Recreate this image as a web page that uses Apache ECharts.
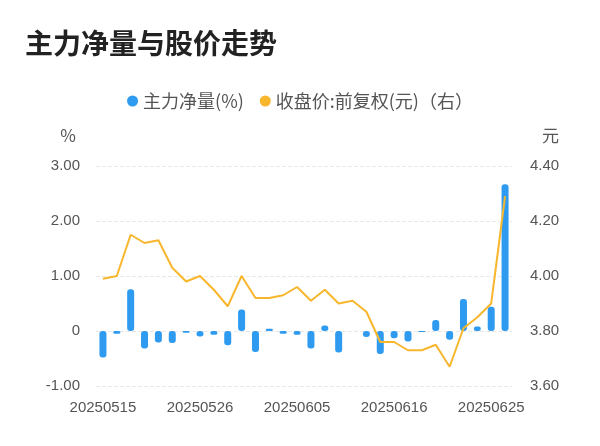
<!DOCTYPE html><html><head><meta charset="utf-8">
<script src="https://cdn.jsdelivr.net/npm/echarts@6/dist/echarts.min.js"></script>
<style>html,body{margin:0;padding:0;background:#fff}#c{width:600px;height:446px}</style></head><body>
<div id="c"></div>
<script>
const dates=['20250515','20250516','20250519','20250520','20250521','20250522','20250523','20250526','20250527','20250528','20250529','20250530','20250603','20250604','20250605','20250606','20250609','20250610','20250611','20250612','20250613','20250616','20250617','20250618','20250619','20250620','20250623','20250624','20250625','20250626'];
const netVolume=[-0.48,-0.05,0.76,-0.32,-0.21,-0.22,-0.03,-0.10,-0.07,-0.26,0.39,-0.38,0.04,-0.05,-0.07,-0.32,0.10,-0.39,0,-0.11,-0.42,-0.13,-0.19,-0.02,0.20,-0.16,0.58,0.08,0.44,2.67];
const price=[3.99,4.00,4.15,4.12,4.13,4.03,3.98,4.00,3.95,3.89,4.00,3.92,3.92,3.93,3.96,3.91,3.95,3.90,3.91,3.87,3.76,3.76,3.73,3.73,3.75,3.67,3.81,3.85,3.90,4.29];
const leftTicks=['-1.00','0','1.00','2.00','3.00'];
const c=echarts.init(document.getElementById('c'));
const font='"Noto Sans CJK SC","Noto Sans",sans-serif';
const tickFont='"Liberation Sans",Arial,sans-serif';
c.setOption({
 animation:false,
 textStyle:{fontFamily:font},
 title:{text:'主力净量与股价走势',left:20,top:24,textStyle:{fontSize:28,fontWeight:'bold',color:'#222',fontFamily:font}},
 legend:{top:87,left:'center',itemWidth:11,itemHeight:11,itemGap:16,textStyle:{fontSize:18,color:'#555'},
  data:[{name:'主力净量(%)',icon:'circle'},{name:'收盘价:前复权(元)（右）',icon:'circle'}]},
 grid:{left:96,right:88,top:166,bottom:60},
 xAxis:{type:'category',data:dates,boundaryGap:true,axisTick:{show:false},axisLine:{show:false},
  axisLabel:{interval:6,color:'#555',fontSize:15,margin:14,fontFamily:tickFont}},
 yAxis:[{type:'value',min:-1,max:3,interval:1,name:'%',nameLocation:'end',nameGap:22,
   nameTextStyle:{fontSize:17,color:'#555',align:'right',padding:[0,20,0,0]},
   axisLabel:{color:'#555',fontSize:15,margin:16,fontFamily:tickFont,formatter:v=>leftTicks[Math.round(v)+1]},
   splitLine:{lineStyle:{type:'dashed',color:'#e8e8e8'}}},
  {type:'value',min:3.6,max:4.4,interval:0.2,name:'元',nameLocation:'end',nameGap:22,
   nameTextStyle:{fontSize:17,color:'#555',align:'left',padding:[0,0,0,30]},
   axisLabel:{color:'#555',fontSize:15,margin:18,fontFamily:tickFont,formatter:v=>v.toFixed(2)},splitLine:{show:false}}],
 series:[{name:'主力净量(%)',type:'bar',data:netVolume,barWidth:7,itemStyle:{color:'#2f9bf0',borderRadius:3}},
  {name:'收盘价:前复权(元)（右）',type:'line',yAxisIndex:1,data:price,symbol:'none',lineStyle:{color:'#f8b62d',width:2},itemStyle:{color:'#f8b62d'}}]
});
</script></body></html>
